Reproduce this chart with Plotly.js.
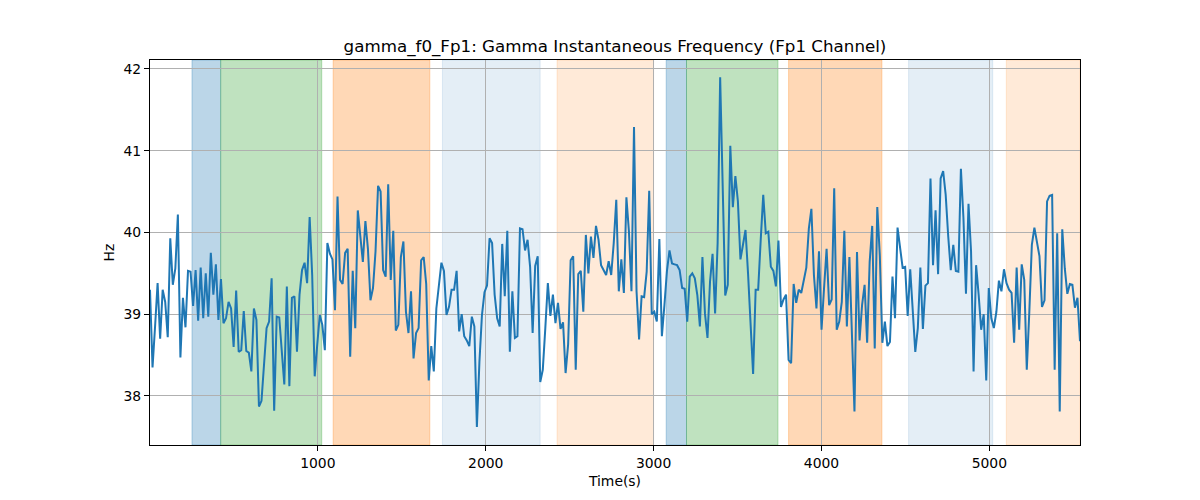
<!DOCTYPE html>
<html>
<head>
<meta charset="utf-8">
<script src="https://cdn.plot.ly/plotly-3.0.1.min.js"></script>
<style>
  body { margin: 0; background: #fff; }
  #chart { width: 1200px; height: 500px; }
</style>
</head>
<body>
<div id="chart"></div>
<script>
// instantaneous gamma frequency (Hz), Fp1 channel
var freqHz = [
  39.3, 38.35, 38.85, 39.38, 38.7, 39.3, 39.15, 38.72, 39.93, 39.36,
  39.56, 40.22, 38.47, 39.2, 38.84, 39.53, 39.52, 39.1, 39.54, 38.92,
  39.57, 38.95, 39.5, 38.97, 39.75, 39.24, 39.61, 38.93, 39.43, 38.89,
  38.95, 39.15, 39.07, 38.6, 39.29, 38.54, 38.56, 39.04, 38.55, 38.53,
  38.3, 39.07, 38.93, 37.87, 37.94, 38.4,
  38.83, 38.91, 39.44, 37.82, 38.97, 38.96, 38.5, 38.14, 39.34, 38.12,
  39.2, 39.22, 38.54, 39.24, 39.54, 39.63, 39.38, 40.19, 39.48, 38.24,
  38.63, 38.99, 38.87, 38.56, 39.87, 39.74, 39.67, 39.05, 40.44, 39.42,
  39.37, 39.75, 39.8, 38.48, 39.53, 38.83, 40.27, 39.97, 39.64, 40.14,
  39.8, 39.17, 39.32, 39.77, 40.57, 40.5, 39.54, 39.46, 40.59,
  39.42, 40.02, 38.8, 38.87, 39.7, 39.89, 39.03, 38.77, 39.28, 38.46,
  38.77, 38.83, 39.66, 39.7, 39.37, 38.19, 38.61, 38.3, 39.07, 39.36,
  39.63, 39.53, 38.99, 39.09, 39.3, 39.3, 39.53, 38.79, 39.0, 38.73,
  38.68, 38.61, 38.97, 38.85, 37.62, 38.42, 38.99, 39.27, 39.35, 39.93,
  39.87, 39.24, 38.95, 38.85, 39.86, 39.22, 40.02,
  38.54, 39.28, 38.71, 38.73, 40.05, 40.04, 39.78, 39.91, 39.58, 38.77,
  39.59, 39.71, 38.17, 38.32, 38.83, 39.38, 38.98, 39.24, 38.89, 39.14,
  38.82, 38.9, 38.28, 38.63, 39.66, 39.71, 38.32, 39.49, 39.53, 39.03,
  39.97, 39.5, 39.95, 39.69, 40.08, 39.91, 39.6, 39.53, 39.48, 39.65,
  39.48, 39.87, 40.4, 39.28, 39.67, 39.26, 40.43, 40.01,
  39.28, 41.29, 39.28, 38.69, 39.22, 39.21, 39.52, 40.51, 39.0, 39.03,
  38.91, 39.92, 38.73, 39.11, 39.53, 39.78, 39.62, 39.61, 39.6, 39.54,
  39.32, 39.31, 38.91, 39.46, 39.5, 39.44, 39.23, 38.85, 39.7, 39.01,
  38.71, 39.4, 39.74, 39.01, 39.87, 41.9, 40.4, 39.23, 39.36, 41.06,
  40.31, 40.69, 40.38, 39.67, 39.85, 40.03, 39.5,
  38.95, 38.27, 39.3, 39.3, 39.91, 40.46, 39.99, 40.01, 39.58, 39.53,
  39.34, 39.9, 39.09, 39.18, 39.24, 38.44, 38.4, 39.37, 39.14, 39.3,
  39.26, 39.41, 39.57, 40.05, 40.29, 39.48, 39.07, 39.77, 38.81, 39.32,
  39.8, 39.11, 39.18, 40.54, 38.81, 38.91, 39.15, 40.02, 38.85, 39.7,
  38.77, 37.81, 39.76, 38.68, 39.11, 39.36, 38.65, 39.64,
  40.08, 38.58, 40.31, 39.72, 38.65, 38.91, 38.61, 38.66, 39.46, 38.95,
  40.06, 39.8, 39.57, 39.58, 38.98, 39.55, 39.07, 38.54, 38.83, 39.57,
  38.82, 39.35, 39.38, 40.66, 39.6, 40.27, 39.49, 40.66, 40.75, 40.46,
  39.95, 39.54, 39.85, 39.53, 39.52, 40.78, 40.18, 39.25, 40.35, 39.77,
  38.3, 39.6, 39.24, 38.81, 39.0, 38.19, 39.32,
  38.95, 38.83, 39.03, 39.41, 39.28, 39.55, 39.38, 39.3, 39.26, 38.65,
  39.57, 38.81, 39.61, 39.42, 38.32, 39.03, 39.85, 40.06, 39.87, 39.71,
  39.09, 39.17, 40.38, 40.45, 40.46, 38.32, 39.99, 37.81, 40.04, 39.56,
  39.25, 39.37, 39.36, 39.08, 39.2, 38.67
];
var tEnd = 5540; // last sample time (s)

// shaded segments: start, end, colour
var segStart = [250, 421, 1091, 1742, 2425, 3075, 3196, 3804, 4519, 5101];
var segEnd   = [421, 1023, 1667, 2324, 3000, 3196, 3741, 4360, 5020, 5540];
var segColor = [
  "rgba(31,119,180,0.3)", "rgba(44,160,44,0.3)", "rgba(255,127,14,0.3)",
  "rgba(31,119,180,0.12)", "rgba(255,127,14,0.16)",
  "rgba(31,119,180,0.3)", "rgba(44,160,44,0.3)", "rgba(255,127,14,0.3)",
  "rgba(31,119,180,0.12)", "rgba(255,127,14,0.16)"
];

var times = [];
for (let i = 0; i < freqHz.length; i++) {
  times.push((tEnd * i) / (freqHz.length - 1));
}

var shapes = [];
for (let i = 0; i < segStart.length; i++) {
  shapes.push({
    type: "rect",
    xref: "x",
    yref: "y domain",
    x0: segStart[i],
    x1: segEnd[i],
    y0: 0,
    y1: 1,
    fillcolor: segColor[i],
    line: { color: segColor[i], width: 1 },
    layer: "below",
  });
}

var axisStyle = {
  showline: true,
  linecolor: "black",
  linewidth: 1,
  mirror: true,
  ticks: "outside",
  ticklen: 5,
  tickcolor: "black",
  showgrid: true,
  gridcolor: "#b0b0b0",
  gridwidth: 1,
  zeroline: false,
  tickfont: { size: 13.9, color: "black" },
};

Plotly.newPlot(
  "chart",
  [
    {
      x: times,
      y: freqHz,
      mode: "lines",
      line: { color: "#1f77b4", width: 2 },
      hoverinfo: "x+y",
    },
  ],
  {
    width: 1200,
    height: 500,
    paper_bgcolor: "white",
    plot_bgcolor: "rgba(0,0,0,0)",
    font: { family: "DejaVu Sans", color: "black" },
    showlegend: false,
    margin: { l: 150, r: 120, t: 60, b: 55 },
    title: {
      text: "gamma_f0_Fp1: Gamma Instantaneous Frequency (Fp1 Channel)",
      font: { size: 16.7, color: "black" },
      x: 0.5125,
      xanchor: "center",
      y: 0.908,
      yanchor: "middle",
    },
    xaxis: Object.assign({}, axisStyle, {
      range: [0, tEnd],
      tickvals: [1000, 2000, 3000, 4000, 5000],
      title: { text: "Time(s)", font: { size: 13.9 }, standoff: 6 },
    }),
    yaxis: Object.assign({}, axisStyle, {
      range: [37.4, 42.11],
      tickvals: [38, 39, 40, 41, 42],
      title: { text: "Hz", font: { size: 13.9 }, standoff: 5 },
    }),
    shapes: shapes,
  },
  { displayModeBar: false }
);
</script>
</body>
</html>
